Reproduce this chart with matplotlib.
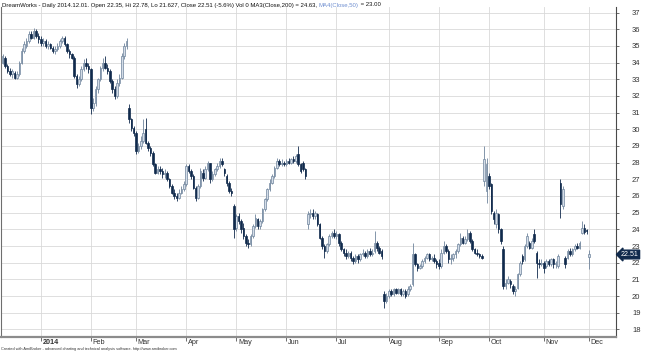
import numpy as np
import pandas as pd
import matplotlib
matplotlib.use("Agg")
import matplotlib.pyplot as plt
from matplotlib import transforms

# Daily OHLC, DreamWorks, 2013-12-09 .. 2014-12-01
opens = [
    # Dec 2013
    34.0, 34.3, 33.8, 33.5, 33.3, 33.4, 33.1, 33.3, 34.0, 34.7, 35.0, 35.3, 35.7, 35.5, 35.9, 35.6,
    # Jan
    35.4, 35.2, 35.3, 35.0, 35.1, 34.9, 34.7, 34.8, 35.0, 35.3, 35.5, 35.1, 34.7, 34.5, 34.3, 33.2, 32.7, 33.0, 33.6, 34.0, 33.8,
    # Feb
    33.6, 31.3, 31.6, 32.4, 33.0, 33.7, 34.0, 33.7, 33.5, 32.9, 32.4, 32.0, 32.8, 33.1, 34.4, 35.0, 31.3, 30.6, 30.1,
    # Mar
    29.8, 28.7, 29.0, 29.3, 30.0, 29.2, 28.9, 28.6, 27.9, 27.4, 27.6, 27.5, 27.3, 27.4, 27.0, 26.6, 26.2, 26.0, 25.9, 26.2, 26.4,
    # Apr
    26.7, 27.8, 27.5, 27.2, 26.5, 25.9, 26.6, 27.4, 27.1, 27.6, 28.0, 27.0, 27.3, 27.6, 27.8, 28.1, 27.6, 27.2, 26.8, 26.3, 25.4,
    # May
    24.1, 24.8, 24.5, 24.1, 23.6, 23.2, 23.1, 23.6, 24.2, 24.6, 24.2, 24.5, 25.2, 25.8, 26.4, 26.8, 27.2, 27.7, 28.1, 27.9, 28.0,
    # Jun
    27.9, 28.1, 28.0, 28.2, 28.1, 28.5, 27.9, 28.0, 27.6, 24.3, 24.9, 25.0, 24.8, 24.9, 24.3, 23.5, 23.0, 22.7, 23.1, 23.6, 23.8,
    # Jul
    23.6, 23.7, 23.2, 22.8, 22.6, 22.4, 22.6, 22.3, 22.1, 22.4, 22.2, 22.5, 22.6, 22.4, 22.7, 22.5, 22.7, 23.2, 22.9, 22.7, 20.1, 19.7,
    # Aug
    20.0, 20.3, 20.1, 20.4, 20.2, 20.4, 20.1, 20.3, 20.1, 20.4, 20.7, 22.5, 21.9, 21.7, 21.8, 22.1, 22.3, 22.5, 22.2, 22.3, 22.1,
    # Sep
    22.0, 21.8, 22.6, 23.0, 22.7, 22.2, 22.3, 22.5, 22.7, 23.1, 23.5, 23.2, 23.4, 23.8, 23.3, 22.8, 22.6, 22.5, 22.4, 26.9, 26.3,
    # Oct
    27.2, 26.7, 25.0, 24.3, 24.9, 24.0, 22.8, 20.6, 20.8, 20.9, 20.6, 20.3, 20.5, 21.3, 22.4, 22.2, 23.0, 23.2, 22.9, 23.7, 22.6, 22.0, 21.9,
    # Nov
    22.0, 21.8, 22.1, 21.9, 22.2, 21.9, 21.8, 26.8, 25.4, 22.3, 22.3, 22.7, 22.5, 22.8, 23.0, 22.9, 23.8, 24.1, 23.9,
    # Dec 1
    22.35,
]
highs = [
    34.5, 34.4, 33.9, 33.7, 33.6, 33.5, 33.5, 34.1, 34.9, 35.3, 35.5, 35.9, 35.9, 36.05, 36.0, 35.8,
    35.6, 35.5, 35.4, 35.3, 35.2, 35.0, 35.0, 35.2, 35.4, 35.6, 35.6, 35.2, 34.8, 34.6, 34.4, 33.3, 33.2, 33.8, 34.2, 34.3, 34.0,
    33.7, 31.9, 32.6, 33.1, 33.8, 34.3, 34.4, 33.9, 33.6, 33.0, 32.6, 33.0, 33.3, 34.6, 35.2, 35.5, 31.5, 30.7, 30.2,
    29.9, 29.2, 29.6, 30.6, 30.7, 29.3, 29.0, 28.7, 28.0, 27.8, 27.8, 27.7, 27.6, 27.5, 27.1, 26.7, 26.4, 26.2, 26.4, 26.6, 26.9,
    27.9, 27.9, 27.6, 27.3, 26.6, 26.7, 27.7, 27.6, 27.8, 28.1, 28.0, 27.5, 27.7, 28.0, 28.3, 28.3, 27.7, 27.3, 26.9, 26.5, 25.5,
    24.9, 25.0, 24.6, 24.4, 23.7, 23.4, 23.7, 24.3, 24.9, 24.7, 24.6, 25.3, 25.9, 26.5, 27.0, 27.3, 27.8, 28.3, 28.2, 28.2, 28.1,
    28.2, 28.3, 28.3, 28.4, 28.5, 29.0, 28.0, 28.1, 27.7, 25.1, 25.2, 25.2, 25.1, 25.0, 24.4, 23.6, 23.1, 23.2, 23.7, 23.9, 24.0,
    23.9, 23.8, 23.3, 22.9, 22.8, 22.7, 22.7, 22.4, 22.5, 22.5, 22.6, 22.8, 22.7, 22.8, 22.9, 22.8, 23.9, 23.3, 23.0, 22.8, 20.3, 20.2,
    20.4, 20.4, 20.5, 20.5, 20.5, 20.5, 20.4, 20.4, 20.6, 20.7, 23.2, 22.6, 22.0, 21.9, 22.2, 22.4, 22.6, 22.6, 22.4, 22.5, 22.2,
    22.2, 22.8, 23.3, 23.1, 22.8, 22.5, 22.6, 22.8, 23.2, 23.8, 23.6, 23.6, 24.0, 23.9, 23.4, 22.9, 22.8, 22.6, 22.5, 29.0, 28.3,
    27.4, 26.8, 25.1, 25.2, 25.0, 24.1, 23.0, 21.0, 21.2, 21.0, 20.7, 20.6, 21.4, 22.1, 22.5, 23.1, 23.8, 23.3, 23.5, 24.0, 22.7, 22.2, 22.2,
    22.1, 22.2, 22.2, 22.3, 22.3, 22.1, 22.5, 27.0, 26.6, 22.4, 22.8, 22.9, 22.9, 23.1, 23.2, 23.3, 24.5, 24.3, 24.0,
    22.78,
]
lows = [
    33.9, 33.7, 33.4, 33.2, 33.1, 33.0, 33.0, 33.2, 33.9, 34.6, 34.9, 35.2, 35.4, 35.4, 35.5, 35.2,
    35.0, 35.0, 34.9, 34.8, 34.8, 34.6, 34.5, 34.7, 34.9, 35.2, 35.0, 34.6, 34.3, 34.2, 33.1, 32.5, 32.6, 32.9, 33.5, 33.6, 33.4,
    30.9, 31.1, 31.4, 32.2, 32.9, 33.5, 33.6, 33.3, 32.8, 32.2, 31.8, 31.9, 32.6, 33.0, 34.2, 34.8, 30.4, 29.9, 29.6,
    28.5, 28.6, 28.8, 29.2, 29.1, 28.7, 28.4, 27.8, 27.3, 27.3, 27.3, 27.1, 27.1, 26.9, 26.5, 26.1, 25.8, 25.7, 25.8, 26.1, 26.3,
    26.6, 27.4, 27.0, 26.4, 25.7, 25.8, 26.5, 26.9, 27.0, 27.5, 26.8, 26.9, 27.2, 27.5, 27.7, 27.8, 27.2, 26.6, 26.2, 26.0, 23.5,
    23.9, 24.3, 23.8, 23.4, 23.0, 22.9, 23.0, 23.5, 24.1, 24.0, 24.0, 24.4, 25.1, 25.7, 26.3, 26.7, 27.1, 27.6, 27.8, 27.8, 27.8,
    27.8, 27.9, 27.9, 28.0, 28.0, 27.8, 27.4, 27.5, 27.0, 24.0, 24.7, 24.6, 24.6, 24.2, 23.4, 22.8, 22.3, 22.6, 23.0, 23.5, 23.5,
    23.4, 23.0, 22.7, 22.4, 22.2, 22.3, 22.1, 21.9, 22.0, 22.0, 22.1, 22.4, 22.3, 22.3, 22.4, 22.4, 22.6, 22.7, 22.5, 22.2, 19.3, 19.6,
    19.9, 20.0, 20.0, 20.1, 20.1, 20.0, 20.0, 19.9, 20.0, 20.3, 20.6, 21.8, 21.5, 21.6, 21.7, 22.0, 22.2, 22.1, 22.1, 22.0, 21.7,
    21.6, 21.7, 22.5, 22.6, 22.0, 21.9, 22.1, 22.3, 22.6, 23.0, 23.1, 23.1, 23.3, 23.2, 22.7, 22.5, 22.4, 22.3, 22.2, 26.6, 25.6,
    26.4, 24.9, 24.3, 24.1, 23.8, 23.1, 20.4, 20.4, 20.7, 20.5, 20.1, 20.0, 20.4, 21.2, 21.9, 22.1, 22.9, 22.8, 22.8, 23.2, 21.1, 21.7, 21.8,
    21.4, 21.7, 21.8, 21.8, 21.7, 21.7, 21.7, 24.7, 25.2, 21.7, 22.2, 22.4, 22.4, 22.7, 22.8, 22.8, 23.7, 23.7, 23.7,
    21.627,
]
closes = [
    34.4, 33.8, 33.5, 33.3, 33.5, 33.1, 33.3, 34.0, 34.7, 35.1, 35.3, 35.7, 35.5, 35.9, 35.6, 35.4,
    35.2, 35.3, 35.0, 35.1, 34.9, 34.7, 34.8, 35.0, 35.3, 35.5, 35.1, 34.7, 34.5, 34.3, 33.2, 32.7, 33.0, 33.6, 34.0, 33.8, 33.6,
    31.3, 31.6, 32.4, 33.0, 33.7, 34.0, 33.7, 33.5, 32.9, 32.4, 32.0, 32.8, 33.1, 34.4, 35.0, 35.3, 30.6, 30.1, 29.8,
    28.7, 29.0, 29.3, 29.8, 29.2, 28.9, 28.6, 27.9, 27.4, 27.6, 27.5, 27.3, 27.4, 27.0, 26.6, 26.2, 26.0, 25.9, 26.2, 26.4, 26.7,
    27.8, 27.5, 27.2, 26.5, 25.9, 26.6, 27.5, 27.1, 27.6, 28.0, 27.0, 27.3, 27.6, 27.8, 28.1, 27.9, 27.4, 26.8, 26.3, 26.2, 24.0,
    24.8, 24.5, 24.0, 23.6, 23.2, 23.1, 23.6, 24.2, 24.7, 24.2, 24.5, 25.2, 25.8, 26.4, 26.8, 27.2, 27.7, 28.1, 27.9, 28.0, 27.9,
    28.1, 28.0, 28.2, 28.1, 28.4, 27.9, 27.5, 27.6, 27.2, 24.9, 25.0, 24.8, 25.0, 24.3, 23.5, 23.0, 22.7, 23.1, 23.6, 23.8, 23.6,
    23.7, 23.2, 22.8, 22.6, 22.4, 22.6, 22.3, 22.1, 22.4, 22.2, 22.5, 22.6, 22.4, 22.7, 22.5, 22.6, 23.2, 22.9, 22.6, 22.4, 19.7, 20.0,
    20.3, 20.1, 20.4, 20.2, 20.4, 20.1, 20.3, 20.0, 20.4, 20.6, 22.5, 21.9, 21.7, 21.8, 22.1, 22.3, 22.5, 22.2, 22.3, 22.1, 21.9,
    21.8, 22.6, 23.0, 22.7, 22.2, 22.3, 22.5, 22.7, 23.1, 23.5, 23.2, 23.4, 23.8, 23.3, 22.8, 22.6, 22.5, 22.4, 22.3, 28.2, 27.9,
    26.6, 25.1, 24.6, 25.0, 24.0, 23.3, 20.6, 20.8, 21.0, 20.7, 20.3, 20.4, 21.3, 22.0, 22.1, 23.0, 23.6, 22.9, 23.3, 23.3, 22.0, 21.9, 22.0,
    21.7, 22.1, 21.9, 22.2, 21.9, 22.0, 22.4, 25.5, 26.4, 21.9, 22.7, 22.5, 22.8, 23.0, 22.9, 23.2, 24.1, 23.85, 23.85,
    22.51,
]

holidays = ["2013-12-25", "2014-01-01", "2014-01-20", "2014-02-17", "2014-04-18",
            "2014-05-26", "2014-07-04", "2014-09-01", "2014-11-27"]
dates = pd.bdate_range("2013-12-09", "2014-12-01", freq="C", holidays=holidays)

title_main = ("DreamWorks - Daily 2014.12.01. Open 22.35, Hi 22.78, Lo 21.627, "
              "Close 22.51 (-5.6%) Vol 0 MA3(Close,200) = 24.63, ")
title_ma = "MA4(Close,50)"
title_end = " = 23.00"
footer = ("Created with AmiBroker - advanced charting and technical analysis software. "
          "http://www.amibroker.com")

UP_FILL = "#d3dce7"
UP_EDGE = "#6f849c"
DOWN = "#102a4c"
GRID = "#d9d9d9"


def main():
    plt.rcParams["font.family"] = ["Liberation Sans", "DejaVu Sans"]

    o = np.array(opens)
    h = np.array(highs)
    l = np.array(lows)
    c = np.array(closes)
    n = len(c)
    assert len(dates) == n, (len(dates), n)
    x = np.arange(n)
    up = c >= o

    W, H = 645, 351
    fig = plt.figure(figsize=(W / 100, H / 100), dpi=100)
    ax = fig.add_axes([1 / W, (H - 337) / H, 615 / W, 330 / H])
    ax.set_xlim(-0.67, 257.3)
    ax.set_ylim(17.545, 37.33)

    # grid
    for v in range(18, 38):
        ax.axhline(v, color=GRID, lw=0.6, zorder=0)
    months = dates.month
    starts = [i for i in range(1, n) if months[i] != months[i - 1]]
    for i in starts:
        ax.axvline(i, color=GRID, lw=0.6, zorder=0)

    # candles
    body = np.where(np.abs(c - o) < 0.05, 0.05, c - o)
    ax.vlines(x[up], l[up], h[up], colors=UP_EDGE, lw=0.6, zorder=2)
    ax.vlines(x[~up], l[~up], h[~up], colors=DOWN, lw=0.6, zorder=2)
    ax.bar(x[up], body[up], bottom=o[up], width=0.65, color=UP_FILL,
           edgecolor=UP_EDGE, linewidth=0.5, zorder=3)
    ax.bar(x[~up], body[~up], bottom=o[~up], width=0.65, color=DOWN,
           edgecolor=DOWN, linewidth=0.5, zorder=3)

    # axes look
    ax.spines["top"].set_visible(False)
    ax.spines["left"].set_color("#6e6e6e")
    ax.spines["left"].set_linewidth(0.8)
    ax.spines["right"].set_color("#4a4a4a")
    ax.spines["right"].set_linewidth(0.8)
    ax.spines["bottom"].set_color("#8c8c8c")
    ax.spines["bottom"].set_linewidth(1.6)

    ax.yaxis.tick_right()
    ax.set_yticks(range(18, 38))
    ax.tick_params(axis="y", right=True, left=False, length=2.5, width=0.6,
                   color="#555555", labelsize=5.5, labelcolor="#333333", pad=9)

    ax.set_xticks(starts)
    ax.set_xticklabels([])
    ax.tick_params(axis="x", length=3, width=0.6, color="#555555", direction="out")
    trans = transforms.blended_transform_factory(ax.transData, ax.transAxes)
    for i in starts:
        label = "2014" if dates[i].month == 1 else dates[i].strftime("%b")
        ax.text(i + 0.7, -0.006, label, transform=trans, ha="left", va="top",
                fontsize=5.2, color="#333333",
                fontweight="bold" if label == "2014" else "normal")

    # title line, three pieces on one baseline
    ty = 1 - 6.5 / H
    renderer = fig.canvas.get_renderer()
    xpos = 2 / W
    for txt, col in [(title_main, "#111111"), (title_ma, "#6f8fd0"), (title_end, "#111111")]:
        t = fig.text(xpos, ty, txt, ha="left", va="baseline", fontsize=4.3, color=col)
        bb = t.get_window_extent(renderer)
        xpos = bb.x1 / (W)

    # last value marker
    fig.text(621 / W, 1 - 254.5 / H, "22.51", ha="left", va="center",
             fontsize=5, color="white",
             bbox=dict(boxstyle="larrow,pad=0.12", fc=DOWN, ec=DOWN))

    fig.text(1 / W, 0.3 / H, footer, ha="left", va="bottom",
             fontsize=2.8, color="#333333")

    fig.savefig("out.png", dpi=100)


if __name__ == "__main__":
    main()
